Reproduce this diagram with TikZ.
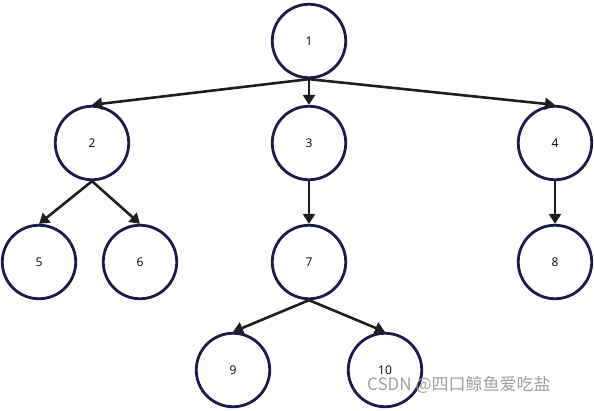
\documentclass[tikz,border=0pt]{standalone}
\usepackage{fontspec}
\setmainfont{Open Sans}
\newfontfamily\cjkfont{Noto Sans CJK SC}
\usepackage{xcolor}
\usetikzlibrary{arrows.meta,positioning}
\definecolor{ringblue}{HTML}{1B1B4B}
\definecolor{arrowgray}{HTML}{1E1E1E}
\tikzset{
  vert/.style={draw=ringblue,circle,line width=2.8pt,minimum size=73.5pt,inner sep=0pt,font=\fontsize{12}{14}\selectfont},
  arr/.style={-{Triangle[length=10pt,width=12pt]},line width=2.6pt,draw=arrowgray},
}
\begin{document}
\begin{tikzpicture}[x=1pt,y=-1pt]
\useasboundingbox (0,0) rectangle (594,410);
\node[vert] (n1) at (309,41) {1};
\node[vert] (n2) at (92,143) {2};
\node[vert] (n3) at (309,143) {3};
\node[vert] (n4) at (555,143) {4};
\node[vert] (n5) at (39,262) {5};
\node[vert] (n6) at (140,262) {6};
\node[vert] (n7) at (309,262) {7};
\node[vert] (n8) at (555,262) {8};
\node[vert] (n9) at (233,370) {9};
\node[vert] (n10) at (385,370) {10};
\foreach \a/\b in {n1/n2,n1/n3,n1/n4,n2/n5,n2/n6,n3/n7,n4/n8,n7/n9,n7/n10}
  \draw[arr] (\a.south) -- (\b.north);
\node[font=\cjkfont\fontsize{17}{19}\selectfont,text=black!38,anchor=west,inner sep=0pt] (mark) at (367,385) {CSDN @四口鲸鱼爱吃盐};
\end{tikzpicture}
\end{document}
